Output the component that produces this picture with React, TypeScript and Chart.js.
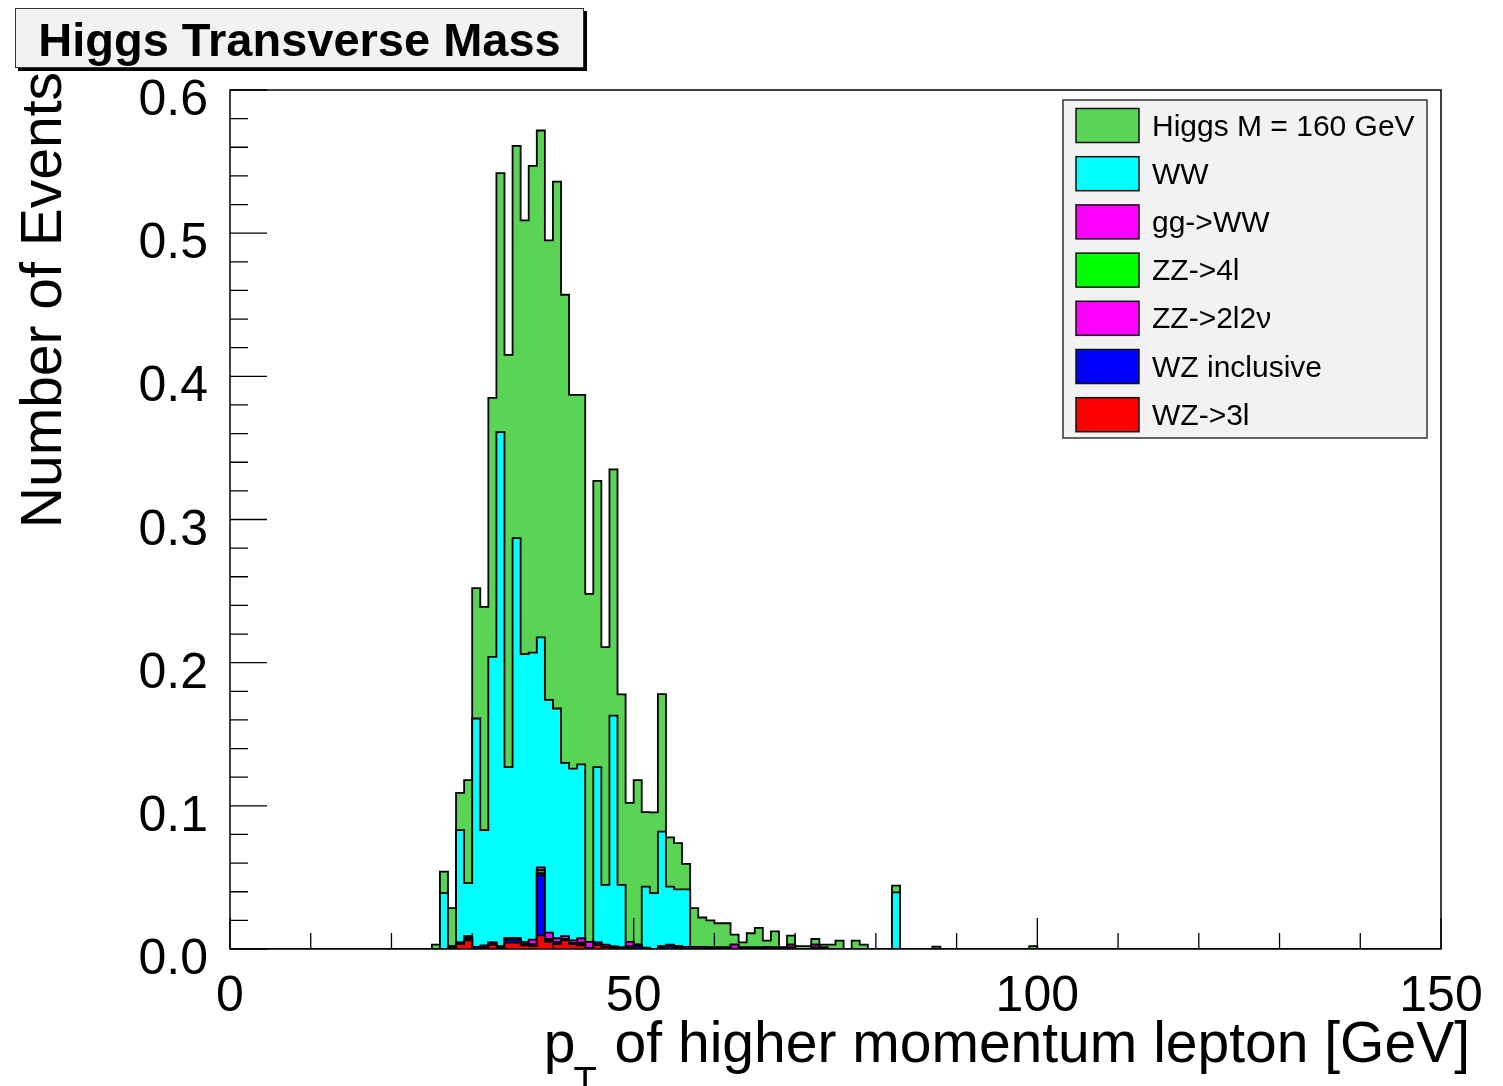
import React, { useEffect, useRef } from 'react';
import { Chart, registerables } from 'chart.js';

Chart.register(...registerables);

// ---------- data (bin width 1 GeV, arrays start at bin [25,26) GeV) ----------
const X_MIN = 0;
const X_MAX = 150;
const FIRST_BIN = 25;

const X_TICKS = [0, 50, 100, 150];
const X_TICK_LABELS = ['0', '50', '100', '150'];
const Y_TICKS = [0, 0.1, 0.2, 0.3, 0.4, 0.5, 0.6];
const Y_TICK_LABELS = ['0.0', '0.1', '0.2', '0.3', '0.4', '0.5', '0.6'];

const TITLE = 'Higgs Transverse Mass';
const X_TITLE_MAIN = 'p';
const X_TITLE_SUB = 'T';
const X_TITLE_REST = ' of higher momentum lepton [GeV]';
const Y_TITLE = 'Number of Events';

// stack order: bottom -> top
const wz3l = [
  0, 0, 0.001, 0.0035, 0.006, 0, 0.001, 0.003, 0, 0.0045,
  0.0045, 0.0025, 0.002, 0.0095, 0.005, 0.0035, 0.006, 0.0035, 0.0025, 0.0005,
  0.0028, 0.0015,
];
const wzInclusive = [
  0, 0, 0, 0.001, 0.0015, 0, 0, 0.0015, 0.001, 0.002,
  0.002, 0.001, 0.0015, 0.042, 0.001, 0.0015, 0.001, 0.0005, 0.001, 0,
  0.0017, 0, 0.0008, 0.001, 0.001, 0.002, 0, 0, 0.001, 0.002,
  0.001, 0, 0, 0, 0.001, 0.001, 0.001, 0, 0.001, 0.001,
  0.001, 0.0015, 0.001, 0.001, 0.001, 0, 0, 0.001, 0.001,
];
const zz2l2v = [
  0, 0, 0, 0, 0, 0.0003, 0, 0, 0, 0,
  0, 0, 0, 0.0015, 0.001, 0, 0, 0, 0.001,
];
const zz4l = [
  0, 0, 0, 0, 0.0015, 0, 0, 0, 0.001, 0.001,
  0.001, 0, 0, 0.002, 0, 0, 0, 0, 0, 0,
  0, 0, 0, 0, 0.001, 0.001, 0, 0, 0.001, 0,
  0.001,
];
const ggWW = [
  0, 0, 0.001, 0, 0, 0.0012, 0.0015, 0, 0, 0,
  0, 0.0015, 0.003, 0.002, 0.0045, 0.0025, 0.002, 0.002, 0.003, 0.0045,
  0, 0.0015, 0.0012, 0, 0.003, 0, 0.001, 0, 0, 0.001,
  0, 0.0015, 0.0015, 0.0015, 0, 0, 0, 0.003, 0, 0,
  0, 0, 0, 0, 0.002, 0, 0, 0.002,
];
const ww = [
  0, 0.039, 0, 0.0785, 0.037, 0.1595, 0.0805, 0.1995, 0.359, 0.1195,
  0.2795, 0.201, 0.2005, 0.1607, 0.1625, 0.1605, 0.121, 0.12, 0.1215, 0,
  0.1225, 0.0418, 0.161, 0.0438, 0, 0, 0.0426, 0.039, 0.08, 0.0406,
  0.0397, 0.0402, 0, 0, 0, 0, 0, 0, 0, 0,
  0, 0, 0, 0, 0, 0, 0, 0, 0, 0,
  0, 0, 0, 0, 0, 0, 0, 0.0396,
];
const higgs = [
  0.003, 0.015, 0.0265, 0.026, 0.072, 0.091, 0.156, 0.181, 0.181, 0.288,
  0.274, 0.303, 0.34, 0.354, 0.321, 0.368, 0.327, 0.261, 0.258, 0.243,
  0.2, 0.166, 0.172, 0.133, 0.097, 0.115, 0.052, 0.0565, 0.096, 0.0344,
  0.0323, 0.0177, 0.027, 0.0205, 0.019, 0.017, 0.017, 0.007, 0.0036, 0.01,
  0.0137, 0.0043, 0.0113, 0, 0.0063, 0.002, 0.002, 0.004, 0.002, 0.003,
  0.0058, 0, 0.0058, 0.003, 0, 0, 0, 0.0047, 0, 0,
  0, 0, 0.0016, 0, 0, 0, 0, 0, 0, 0,
  0, 0, 0, 0, 0.002,
];

const LAYERS = [
  { label: 'WZ->3l', values: wz3l, color: '#ff0000' },
  { label: 'WZ inclusive', values: wzInclusive, color: '#0000ff' },
  { label: 'ZZ->2l2\u03bd', values: zz2l2v, color: '#ff00ff' },
  { label: 'ZZ->4l', values: zz4l, color: '#00ff00' },
  { label: 'gg->WW', values: ggWW, color: '#ff00ff' },
  { label: 'WW', values: ww, color: '#00ffff' },
  { label: 'Higgs M = 160 GeV', values: higgs, color: '#59d454' },
];

const FONT = '"Liberation Sans", Arial, Helvetica, sans-serif';

// points at bin left edges; each value holds until the next edge
function buildSteps(values: number[]) {
  const pts: { x: number; y: number }[] = [];
  for (let k = X_MIN; k < X_MAX; k++) {
    const i = k - FIRST_BIN;
    const v = i >= 0 && i < values.length ? values[i] : 0;
    pts.push({ x: k, y: v });
  }
  pts.push({ x: X_MAX, y: pts[pts.length - 1].y });
  return pts;
}

const rootDecor = {
  id: 'rootDecor',
  beforeDraw(chart: any) {
    const { ctx, width, height } = chart;
    ctx.save();
    ctx.fillStyle = '#ffffff';
    ctx.fillRect(0, 0, width, height);
    ctx.restore();
  },
  afterDatasetsDraw(chart: any) {
    const { ctx, chartArea: a, scales } = chart;
    const xs = scales.x;
    const ys = scales.y;
    ctx.save();

    // frame
    ctx.strokeStyle = '#000';
    ctx.lineWidth = 1.5;
    ctx.strokeRect(a.left, a.top, a.right - a.left, a.bottom - a.top);

    // y ticks
    ctx.lineWidth = 1.3;
    ctx.beginPath();
    for (let t = 0; t < Y_TICKS.length; t++) {
      const py = ys.getPixelForValue(Y_TICKS[t]);
      ctx.moveTo(a.left, py);
      ctx.lineTo(a.left + 37, py);
      if (t < Y_TICKS.length - 1) {
        const step = Y_TICKS[t + 1] - Y_TICKS[t];
        for (let j = 1; j < 5; j++) {
          const pm = ys.getPixelForValue(Y_TICKS[t] + (step * j) / 5);
          ctx.moveTo(a.left, pm);
          ctx.lineTo(a.left + 18, pm);
        }
      }
    }
    // x ticks
    for (let t = 0; t < X_TICKS.length; t++) {
      const px = xs.getPixelForValue(X_TICKS[t]);
      ctx.moveTo(px, a.bottom);
      ctx.lineTo(px, a.bottom - 31);
      if (t < X_TICKS.length - 1) {
        const step = X_TICKS[t + 1] - X_TICKS[t];
        for (let j = 1; j < 5; j++) {
          const pm = xs.getPixelForValue(X_TICKS[t] + (step * j) / 5);
          ctx.moveTo(pm, a.bottom);
          ctx.lineTo(pm, a.bottom - 16);
        }
      }
    }
    ctx.stroke();

    // tick labels
    ctx.fillStyle = '#000';
    ctx.font = `50px ${FONT}`;
    ctx.textAlign = 'right';
    ctx.textBaseline = 'alphabetic';
    Y_TICKS.forEach((v, i) => {
      ctx.fillText(Y_TICK_LABELS[i], a.left - 22, ys.getPixelForValue(v) + 25);
    });
    ctx.textAlign = 'center';
    X_TICKS.forEach((v, i) => {
      ctx.fillText(X_TICK_LABELS[i], xs.getPixelForValue(v), a.bottom + 62);
    });

    // x title (right aligned)
    ctx.textAlign = 'left';
    const mainFont = `57px ${FONT}`;
    const subFont = `38px ${FONT}`;
    ctx.font = mainFont;
    const wMain = ctx.measureText(X_TITLE_MAIN).width;
    const wRest = ctx.measureText(X_TITLE_REST).width;
    ctx.font = subFont;
    const wSub = ctx.measureText(X_TITLE_SUB).width;
    const xEnd = 1470;
    const base = 1062;
    let cx = xEnd - (wMain + wSub + wRest);
    ctx.font = mainFont;
    ctx.fillText(X_TITLE_MAIN, cx, base);
    cx += wMain - 2;
    ctx.font = subFont;
    ctx.fillText(X_TITLE_SUB, cx, base + 32);
    cx += wSub + 2;
    ctx.font = mainFont;
    ctx.fillText(X_TITLE_REST, cx, base);

    // y title (rotated, aligned to top)
    ctx.save();
    ctx.translate(61, 72);
    ctx.rotate(-Math.PI / 2);
    ctx.textAlign = 'right';
    ctx.font = `57px ${FONT}`;
    ctx.fillText(Y_TITLE, 0, 0);
    ctx.restore();

    // title box
    const tb = { x: 15, y: 8, w: 569, h: 60 };
    ctx.fillStyle = '#000';
    ctx.fillRect(tb.x + 3, tb.y + 3, tb.w, tb.h);
    ctx.fillStyle = '#f2f2f2';
    ctx.fillRect(tb.x, tb.y, tb.w, tb.h);
    ctx.strokeStyle = '#333';
    ctx.lineWidth = 1;
    ctx.strokeRect(tb.x + 0.5, tb.y + 0.5, tb.w - 1, tb.h - 1);
    ctx.fillStyle = '#000';
    ctx.font = `bold 47px ${FONT}`;
    ctx.textAlign = 'center';
    ctx.fillText(TITLE, tb.x + tb.w / 2, 56);

    // legend
    const lg = { x: 1063, y: 100, w: 364, h: 338 };
    ctx.fillStyle = '#f2f2f2';
    ctx.fillRect(lg.x, lg.y, lg.w, lg.h);
    ctx.strokeStyle = '#333';
    ctx.lineWidth = 1.5;
    ctx.strokeRect(lg.x, lg.y, lg.w, lg.h);
    const dsets = chart.data.datasets.slice().reverse();
    ctx.font = `30px ${FONT}`;
    ctx.textAlign = 'left';
    dsets.forEach((d: any, i: number) => {
      const cy = 125.5 + i * 48.2;
      ctx.fillStyle = d.backgroundColor;
      ctx.fillRect(1076, cy - 17, 63, 34);
      ctx.strokeStyle = '#111';
      ctx.lineWidth = 1.5;
      ctx.strokeRect(1076, cy - 17, 63, 34);
      ctx.fillStyle = '#000';
      ctx.fillText(d.label, 1152, cy + 10);
    });

    ctx.restore();
  },
};

export default function App() {
  const ref = useRef<HTMLCanvasElement>(null);
  useEffect(() => {
    const canvas = ref.current;
    if (!canvas) return;
    const datasets = LAYERS.map((l, i) => ({
      type: 'line' as const,
      label: l.label,
      data: buildSteps(l.values),
      stepped: 'before' as const,
      borderColor: '#000000',
      borderWidth: 1.8,
      backgroundColor: l.color,
      fill: i === 0 ? 'origin' : '-1',
      pointRadius: 0,
      pointHoverRadius: 0,
      tension: 0,
    }));
    const chart = new Chart(canvas, {
      type: 'line',
      data: { datasets } as any,
      options: {
        animation: false,
        responsive: false,
        devicePixelRatio: 1,
        events: [],
        layout: { padding: { left: 230, right: 62, top: 90, bottom: 137 } },
        plugins: {
          legend: { display: false },
          tooltip: { enabled: false },
          title: { display: false },
        },
        scales: {
          x: { type: 'linear', min: X_MIN, max: X_MAX, display: false },
          y: { type: 'linear', min: 0, max: 0.6, stacked: true, display: false },
        },
      } as any,
      plugins: [rootDecor],
    });
    return () => chart.destroy();
  }, []);
  return (
    <canvas
      ref={ref}
      width={1503}
      height={1086}
      style={{ position: 'fixed', left: 0, top: 0, width: 1503, height: 1086 }}
    />
  );
}
